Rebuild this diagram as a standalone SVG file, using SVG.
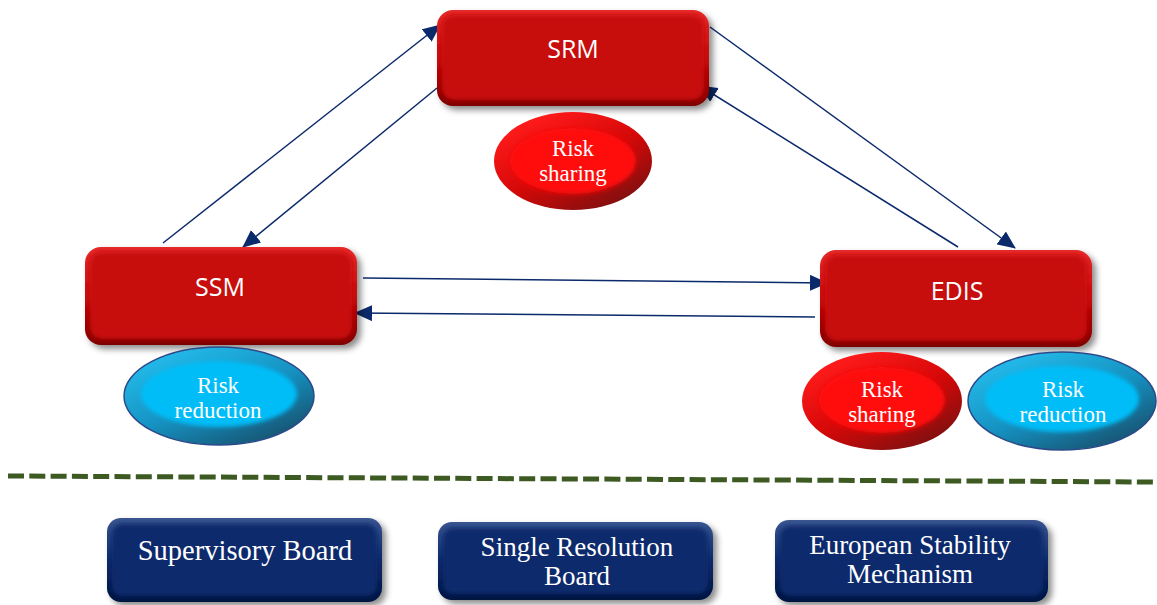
<svg xmlns="http://www.w3.org/2000/svg" width="1157" height="605" viewBox="0 0 1157 605">
  <defs>
    <linearGradient id="redOuter" x1="0" y1="0" x2="0" y2="1">
      <stop offset="0" stop-color="#e62a2a"/>
      <stop offset="0.5" stop-color="#c80808"/>
      <stop offset="1" stop-color="#7e0000"/>
    </linearGradient>
    <linearGradient id="navyOuter" x1="0" y1="0" x2="0" y2="1">
      <stop offset="0" stop-color="#3a5590"/>
      <stop offset="0.5" stop-color="#0a2a6c"/>
      <stop offset="1" stop-color="#031440"/>
    </linearGradient>
    <linearGradient id="redEll" x1="0.2" y1="0.1" x2="0.85" y2="0.95">
      <stop offset="0" stop-color="#ff1a1a"/>
      <stop offset="0.5" stop-color="#d40808"/>
      <stop offset="1" stop-color="#7a1010"/>
    </linearGradient>
    <linearGradient id="blueEll" x1="0.2" y1="0.1" x2="0.85" y2="0.95">
      <stop offset="0" stop-color="#22b8e8"/>
      <stop offset="0.5" stop-color="#1591c0"/>
      <stop offset="1" stop-color="#17506e"/>
    </linearGradient>
    <filter id="shadow" x="-10%" y="-10%" width="125%" height="135%">
      <feDropShadow dx="4" dy="4" stdDeviation="3" flood-color="#000" flood-opacity="0.45"/>
    </filter>
    <filter id="soft" x="-10%" y="-10%" width="120%" height="120%">
      <feGaussianBlur stdDeviation="2"/>
    </filter>
    <marker id="arr" markerUnits="userSpaceOnUse" markerWidth="18" markerHeight="16" refX="17" refY="8" orient="auto">
      <path d="M0,0 L18,8 L0,16 z" fill="#0b2a6b"/>
    </marker>
  </defs>
  <style>
    .conn { stroke: #0b2a6b; stroke-width: 1.5; fill: none; marker-end: url(#arr); }
    .boxTxt { font-family: "Open Sans", "Liberation Sans", sans-serif; font-size: 25px; fill: #ffffff; text-anchor: middle; }
    .ellTxt { font-family: "Liberation Serif", serif; font-size: 23px; fill: #ffffff; text-anchor: middle; }
    .boardTxt { font-family: "Liberation Serif", serif; font-size: 28.5px; fill: #ffffff; text-anchor: middle; }
    .boardTxt2 { font-family: "Liberation Serif", serif; font-size: 27px; fill: #ffffff; text-anchor: middle; }
    .redInner { fill: #c80808; }
    .navyInner { fill: #0a2a6c; }
  </style>

  <!-- connectors -->
  <g id="connectors">
    <line class="conn" x1="163" y1="243" x2="440" y2="25"/>
    <line class="conn" x1="437" y1="88" x2="243" y2="247"/>
    <line class="conn" x1="710" y1="27" x2="1015" y2="248"/>
    <line class="conn" x1="958" y1="247" x2="700" y2="86"/>
    <line class="conn" x1="363" y1="278" x2="827" y2="283"/>
    <line class="conn" x1="815" y1="317" x2="355" y2="313"/>
  </g>

  <!-- SRM -->
  <g id="srm">
    <rect x="437" y="10" width="272" height="96" rx="16" fill="url(#redOuter)" filter="url(#shadow)"/>
    <rect class="redInner" x="442" y="15" width="262" height="85" rx="12" filter="url(#soft)"/>
    <text class="boxTxt" x="573" y="58">SRM</text>
  </g>
  <g id="srm-risk-sharing">
    <ellipse cx="573" cy="161" rx="79" ry="49" fill="url(#redEll)"/>
    <ellipse cx="573" cy="161" rx="63" ry="33" fill="#ff0909" filter="url(#soft)"/>
    <text class="ellTxt" x="573" y="156">Risk</text>
    <text class="ellTxt" x="573" y="181">sharing</text>
  </g>

  <!-- SSM -->
  <g id="ssm">
    <rect x="85" y="247" width="272" height="98" rx="16" fill="url(#redOuter)" filter="url(#shadow)"/>
    <rect class="redInner" x="90" y="252" width="262" height="87" rx="12" filter="url(#soft)"/>
    <text class="boxTxt" x="220" y="296">SSM</text>
  </g>
  <g id="ssm-risk-reduction">
    <ellipse cx="219" cy="396" rx="95" ry="49" fill="url(#blueEll)" stroke="#2c4a8a" stroke-width="1.5"/>
    <ellipse cx="219" cy="394" rx="78" ry="33" fill="#00bdf8" filter="url(#soft)"/>
    <text class="ellTxt" x="218" y="393">Risk</text>
    <text class="ellTxt" x="218" y="418">reduction</text>
  </g>

  <!-- EDIS -->
  <g id="edis">
    <rect x="820" y="250" width="272" height="97" rx="16" fill="url(#redOuter)" filter="url(#shadow)"/>
    <rect class="redInner" x="825" y="255" width="262" height="86" rx="12" filter="url(#soft)"/>
    <text class="boxTxt" x="957" y="300">EDIS</text>
  </g>
  <g id="edis-risk-sharing">
    <ellipse cx="882" cy="401" rx="80" ry="49" fill="url(#redEll)"/>
    <ellipse cx="882" cy="400" rx="63" ry="33" fill="#ff0909" filter="url(#soft)"/>
    <text class="ellTxt" x="882" y="397">Risk</text>
    <text class="ellTxt" x="882" y="422">sharing</text>
  </g>
  <g id="edis-risk-reduction">
    <ellipse cx="1062" cy="401" rx="94" ry="49" fill="url(#blueEll)" stroke="#2c4a8a" stroke-width="1.5"/>
    <ellipse cx="1062" cy="399" rx="77" ry="33" fill="#00bdf8" filter="url(#soft)"/>
    <text class="ellTxt" x="1063" y="397">Risk</text>
    <text class="ellTxt" x="1063" y="422">reduction</text>
  </g>

  <!-- dashed separator -->
  <line x1="8" y1="476" x2="1155" y2="482" stroke="#3d5a23" stroke-width="5" stroke-dasharray="16 5.3"/>

  <!-- boards -->
  <g id="supervisory-board">
    <rect x="107" y="518" width="275" height="84" rx="14" fill="url(#navyOuter)" filter="url(#shadow)"/>
    <rect class="navyInner" x="112" y="524" width="265" height="72" rx="10" filter="url(#soft)"/>
    <text class="boardTxt" x="245" y="560">Supervisory Board</text>
  </g>
  <g id="single-resolution-board">
    <rect x="438" y="522" width="275" height="78" rx="14" fill="url(#navyOuter)" filter="url(#shadow)"/>
    <rect class="navyInner" x="443" y="528" width="265" height="66" rx="10" filter="url(#soft)"/>
    <text class="boardTxt2" x="577" y="556">Single Resolution</text>
    <text class="boardTxt2" x="577" y="585">Board</text>
  </g>
  <g id="european-stability-mechanism">
    <rect x="775" y="520" width="273" height="82" rx="14" fill="url(#navyOuter)" filter="url(#shadow)"/>
    <rect class="navyInner" x="780" y="526" width="263" height="70" rx="10" filter="url(#soft)"/>
    <text class="boardTxt2" x="910" y="554">European Stability</text>
    <text class="boardTxt2" x="910" y="583">Mechanism</text>
  </g>
</svg>
